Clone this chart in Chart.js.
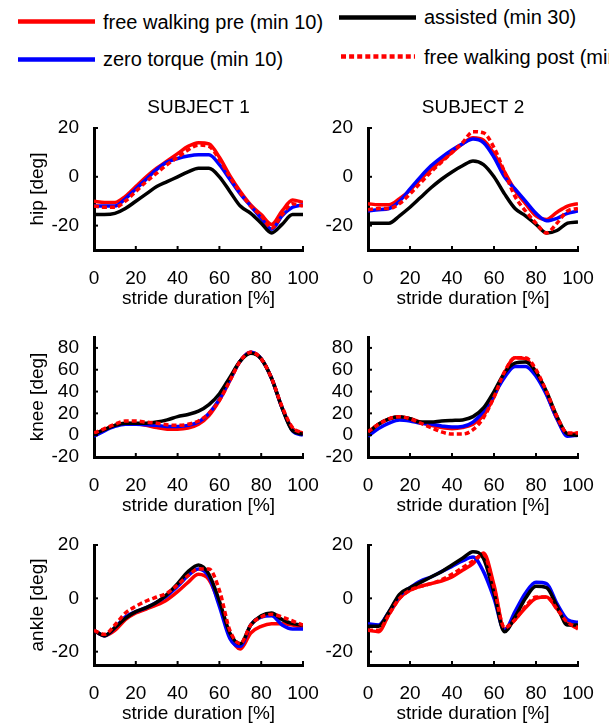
<!DOCTYPE html>
<html>
<head>
<meta charset="utf-8">
<script src="https://cdn.jsdelivr.net/npm/chart.js@4.4.1/dist/chart.umd.min.js"></script>
<style>
	body { margin: 0; background: #fff; width: 609px; height: 723px; overflow: hidden; position: relative; font-family: "Liberation Sans", Arial, sans-serif; }
	canvas { position: absolute; }
	.leg { position: absolute; font-family: "Liberation Sans", Arial, sans-serif; font-size: 20px; line-height: 24px; white-space: nowrap; color: #000; }
	.legline { position: absolute; }
</style>
</head>
<body>

<svg class="legline" style="left:18px;top:19px" width="77" height="5"><line x1="0" y1="2.5" x2="77" y2="2.5" stroke="#ff0000" stroke-width="4.5"/></svg>
<div class="leg" style="left:103px;top:9.5px">free walking pre (min 10)</div>
<svg class="legline" style="left:339px;top:15px" width="77" height="5"><line x1="0" y1="2.5" x2="77" y2="2.5" stroke="#000" stroke-width="4.5"/></svg>
<div class="leg" style="left:424px;top:4.5px">assisted (min 30)</div>
<svg class="legline" style="left:18px;top:56.5px" width="77" height="5"><line x1="0" y1="2.5" x2="77" y2="2.5" stroke="#0000ff" stroke-width="4.5"/></svg>
<div class="leg" style="left:103px;top:47px">zero torque (min 10)</div>
<svg class="legline" style="left:341px;top:53.5px" width="74" height="5"><line x1="0" y1="2.5" x2="74" y2="2.5" stroke="#ff0000" stroke-width="4.5" stroke-dasharray="5,3.1"/></svg>
<div class="leg" style="left:424px;top:45px">free walking post (min 10)</div>

<canvas id="hip1"></canvas>
<canvas id="hip2"></canvas>
<canvas id="knee1"></canvas>
<canvas id="knee2"></canvas>
<canvas id="ankle1"></canvas>
<canvas id="ankle2"></canvas>

<script>
	// stride duration [%] grid shared by every curve
	const stride = [0, 5, 10, 15, 20, 25, 30, 35, 40, 45, 50, 55, 60, 65, 70, 75, 80, 85, 90, 95, 100];
	const xTicks = [0, 20, 40, 60, 80, 100];
	const hipTicks = [-20, 0, 20];
	const kneeTicks = [-20, 0, 20, 40, 60, 80];
	const ankleTicks = [-20, 0, 20];

	// subject 1
	const hip1Pre = [-10, -10.5, -10.5, -8, -4, 0, 3.5, 6.5, 9.5, 12.5, 14, 13.5, 8, 0.5, -6, -11.5, -15.5, -19.5, -14, -9.5, -10.5];
	const hip1Zero = [-12, -12, -12, -9, -5, -1, 3, 6, 7.5, 8.5, 9, 9, 5, -1, -7, -12, -17, -21.5, -16, -12.5, -11.5];
	const hip1Assist = [-15.5, -15.5, -15, -13, -10, -7, -4, -2, 0, 2, 3.5, 3.5, 0, -6, -12, -15, -19, -23, -19.5, -15.5, -15.5];
	const hip1Post = [-12, -12.5, -12.5, -10, -6, -2, 1.5, 5, 8, 11, 13, 12.5, 7, 0, -6.5, -12, -16, -21, -15.5, -11, -12];

	const knee1Pre = [1, 5, 9, 11, 10.5, 9, 7, 5.5, 5.5, 6.5, 10, 18, 32, 50, 68, 76, 70, 52, 25, 6, 2];
	const knee1Zero = [-1, 4, 8, 10, 10, 9.5, 9, 8, 8, 9, 12, 20, 33, 51, 68, 76, 70, 52, 25, 4, 0];
	const knee1Assist = [1, 5, 9, 11, 11, 11, 12, 14, 17, 19, 22, 28, 38, 53, 68, 75, 70, 52, 25, 4, 1];
	const knee1Post = [2, 6, 10, 13, 13, 12, 11, 9.5, 9, 10, 13, 20, 32, 50, 68, 76, 70, 52, 26, 7, 2];

	const ankle1Pre = [-12, -14, -12, -8, -5.5, -4, -2.5, -0.5, 2.5, 6, 9, 7, -2, -14, -19, -13, -10.5, -9.5, -9.5, -10, -11];
	const ankle1Zero = [-12, -14, -11, -7, -5, -3.5, -1.5, 1, 4.5, 8.5, 11, 8, -3, -15, -18, -10, -7, -6.5, -10, -11.5, -11.5];
	const ankle1Assist = [-12, -14, -11, -7.5, -5, -3.5, -1.5, 1.5, 5.5, 10, 12.5, 9, -1, -13, -17, -10, -6.5, -5.5, -8, -9.5, -10];
	const ankle1Post = [-12, -13.5, -10, -5.5, -3, -1, 0.5, 2, 5, 8.5, 11, 11, 3, -12, -17, -10, -7, -6, -7, -8.5, -10];

	// subject 2
	const hip2Pre = [-11, -11.5, -11.5, -9, -5.5, -1, 3, 6.5, 10, 13.5, 16, 15, 9.5, 2, -5.5, -11, -16, -17.5, -14.5, -12, -11];
	const hip2Zero = [-14, -13.5, -13, -10, -5, 0, 4.5, 8, 11, 13.5, 15.5, 14, 8, 0, -5, -10, -15, -18, -17, -15, -14];
	const hip2Assist = [-19, -19, -19, -16, -12.5, -8.5, -4.5, -1, 2, 4.5, 6.5, 5, 0, -7, -13, -16, -19.5, -23, -22, -19, -18.5];
	const hip2Post = [-13.5, -13, -13, -11, -7, -2.5, 2, 6, 10, 14, 18.5, 18, 12, 2, -8, -14, -19, -23, -19, -14, -13];

	const knee2Pre = [3, 10, 15, 17, 15, 12, 9, 7, 6, 7, 10, 18, 35, 57, 71, 70, 58, 38, 15, 1, 2];
	const knee2Zero = [-1, 6, 11, 14, 13, 11, 10, 8.5, 7.5, 8, 12, 22, 37, 53, 63, 63, 54, 37, 15, -1, 0];
	const knee2Assist = [2, 10, 15, 17, 15, 12, 12, 13, 13.5, 14, 17, 25, 40, 57, 66, 67, 58, 40, 17, 1, 0];
	const knee2Post = [3, 10, 15, 17, 15, 11, 7, 3, 1, 1, 5, 16, 35, 58, 71, 71, 60, 40, 17, 2, 2];

	const ankle2Pre = [-12, -12.5, -6, 0, 3, 4.5, 5.5, 6.5, 8, 10.5, 13, 17, 5, -11.5, -8, -3.5, 0, 0.5, -4, -9, -11.5];
	const ankle2Zero = [-9.5, -10, -5, 1, 4, 6.5, 8, 10, 12, 14, 15.5, 10, 0, -12, -5, 2, 6, 5.5, -2, -8, -9];
	const ankle2Assist = [-10.5, -10.5, -5, 1.5, 4, 6, 8, 10, 12.5, 15, 17.5, 15, 2, -12.5, -7, 0, 4.5, 4, -3, -10, -10];
	const ankle2Post = [-12, -12, -6, 0, 3, 4.5, 5.5, 7, 9, 11.5, 14, 16.5, 4, -11, -8, -3, 0.5, 0.5, -4, -9, -11];

	const AXIS_W = 94, AXIS_H = 62, PAD_T = 40, PAD_R = 30;

	Chart.defaults.font.family = '"Liberation Sans", Arial, sans-serif';
	Chart.defaults.color = '#000';

	// matlab-style small ticks pointing into the plot
	const inwardTicks = {
		id: 'inwardTicks',
		afterDraw(chart) {
			const { ctx, chartArea, scales } = chart;
			ctx.save();
			ctx.strokeStyle = '#000';
			ctx.lineWidth = 2;
			scales.x.ticks.forEach(t => {
				const px = scales.x.getPixelForValue(t.value);
				ctx.beginPath();
				ctx.moveTo(px, chartArea.bottom);
				ctx.lineTo(px, chartArea.bottom - 4);
				ctx.stroke();
			});
			scales.y.ticks.forEach(t => {
				const py = scales.y.getPixelForValue(t.value);
				ctx.beginPath();
				ctx.moveTo(chartArea.left, py);
				ctx.lineTo(chartArea.left + 4, py);
				ctx.stroke();
			});
			ctx.restore();
		}
	};

	function linha(values, color, dashed) {
		return {
			data: stride.map((x, i) => ({ x: x, y: values[i] })),
			borderColor: color,
			borderWidth: 3.5,
			borderDash: dashed ? [5, 3] : [],
			pointRadius: 0,
			cubicInterpolationMode: 'monotone',
			fill: false
		};
	}

	function gerarPainel(p) {
		const cv = document.getElementById(p.id);
		cv.width = p.box.right - p.box.left + AXIS_W + PAD_R;
		cv.height = p.box.bottom - p.box.top + PAD_T + AXIS_H;
		cv.style.left = (p.box.left - AXIS_W) + 'px';
		cv.style.top = (p.box.top - PAD_T) + 'px';

		new Chart(cv.getContext('2d'), {
			type: 'line',
			data: {
				// first dataset is drawn on top
				datasets: [
					linha(p.post, '#ff0000', true),
					linha(p.assist, '#000000', false),
					linha(p.zero, '#0000ff', false),
					linha(p.pre, '#ff0000', false)
				]
			},
			plugins: [inwardTicks],
			options: {
				responsive: false,
				animation: false,
				layout: { padding: { left: 0, right: PAD_R, top: p.title ? 0 : PAD_T, bottom: 0 } },
				plugins: {
					legend: { display: false },
					tooltip: { enabled: false },
					title: {
						display: !!p.title,
						text: p.title || '',
						color: '#000',
						fullSize: false,
						font: { size: 19, weight: 'normal' },
						padding: { top: 8.6, bottom: 8.6 }
					}
				},
				scales: {
					x: {
						type: 'linear',
						min: 0,
						max: 100,
						grid: { display: false },
						border: { color: '#000', width: 3 },
						ticks: { color: '#000', font: { size: 19 }, padding: 9, maxRotation: 0, autoSkip: false },
						afterBuildTicks: s => { s.ticks = xTicks.map(v => ({ value: v })); },
						afterFit: s => { s.height = AXIS_H; },
						title: { display: true, text: 'stride duration [%]', color: '#000', font: { size: 19 }, padding: { top: 0, bottom: 2 } }
					},
					y: {
						min: p.yMin,
						max: p.yMax,
						grid: { display: false },
						border: { color: '#000', width: 3 },
						ticks: { color: '#000', font: { size: 19 }, padding: 7, autoSkip: false },
						afterBuildTicks: s => { s.ticks = p.yTicks.map(v => ({ value: v })); },
						afterFit: s => { s.width = AXIS_W; },
						title: { display: !!p.yTitle, text: p.yTitle || '', color: '#000', font: { size: 19 }, padding: { top: 26, bottom: 0 } }
					}
				}
			}
		});
	}

	const paineis = [
		{ id: 'hip1', title: 'SUBJECT 1', yTitle: 'hip [deg]', box: { left: 94, right: 303, top: 128, bottom: 250 }, yMin: -30, yMax: 20, yTicks: hipTicks,
		  pre: hip1Pre, zero: hip1Zero, assist: hip1Assist, post: hip1Post },
		{ id: 'hip2', title: 'SUBJECT 2', yTitle: '', box: { left: 368, right: 578, top: 128, bottom: 250 }, yMin: -30, yMax: 20, yTicks: hipTicks,
		  pre: hip2Pre, zero: hip2Zero, assist: hip2Assist, post: hip2Post },
		{ id: 'knee1', yTitle: 'knee [deg]', box: { left: 94, right: 303, top: 337, bottom: 457 }, yMin: -20, yMax: 90, yTicks: kneeTicks,
		  pre: knee1Pre, zero: knee1Zero, assist: knee1Assist, post: knee1Post },
		{ id: 'knee2', yTitle: '', box: { left: 368, right: 578, top: 337, bottom: 457 }, yMin: -20, yMax: 90, yTicks: kneeTicks,
		  pre: knee2Pre, zero: knee2Zero, assist: knee2Assist, post: knee2Post },
		{ id: 'ankle1', yTitle: 'ankle [deg]', box: { left: 94, right: 303, top: 545, bottom: 665 }, yMin: -25, yMax: 20, yTicks: ankleTicks,
		  pre: ankle1Pre, zero: ankle1Zero, assist: ankle1Assist, post: ankle1Post },
		{ id: 'ankle2', yTitle: '', box: { left: 368, right: 578, top: 545, bottom: 665 }, yMin: -25, yMax: 20, yTicks: ankleTicks,
		  pre: ankle2Pre, zero: ankle2Zero, assist: ankle2Assist, post: ankle2Post }
	];

	paineis.forEach(gerarPainel);
</script>
</body>
</html>
